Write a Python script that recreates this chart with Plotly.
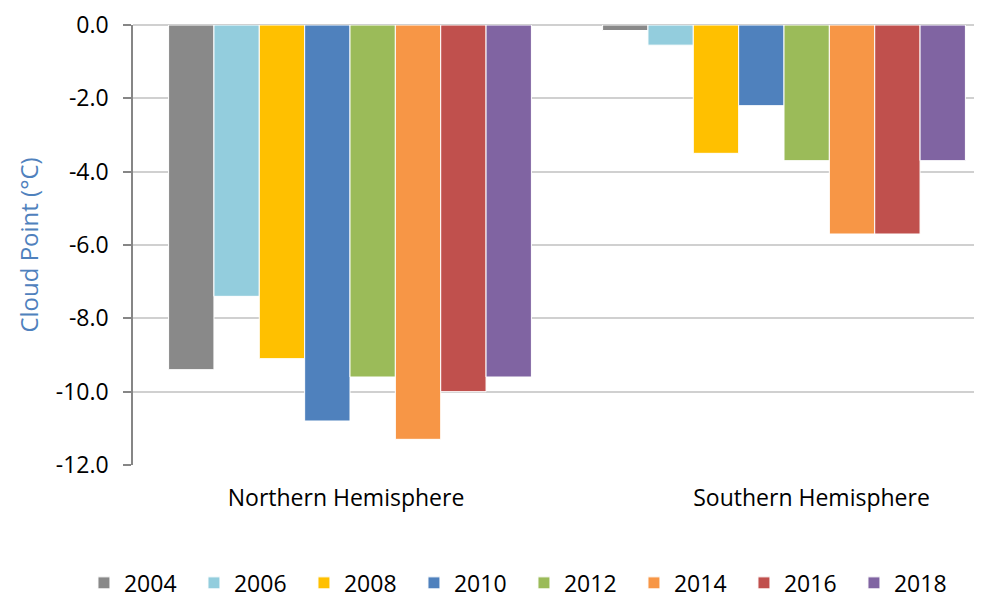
import plotly.graph_objects as go

categories = ["Northern Hemisphere", "Southern Hemisphere"]
years = ["2004", "2006", "2008", "2010", "2012", "2014", "2016", "2018"]
values = {
    "2004": [-9.4, -0.15],
    "2006": [-7.4, -0.55],
    "2008": [-9.1, -3.5],
    "2010": [-10.8, -2.2],
    "2012": [-9.6, -3.7],
    "2014": [-11.3, -5.7],
    "2016": [-10.0, -5.7],
    "2018": [-9.6, -3.7],
}
colors = ["#898989", "#93CDDD", "#FFC000", "#4F81BD", "#9BBB59", "#F79646", "#C0504D", "#8064A2"]
y_ticks = [0, -2, -4, -6, -8, -10, -12]
y_ticktext = ["0.0", "-2.0", "-4.0", "-6.0", "-8.0", "-10.0", "-12.0"]

FONT = "Open Sans"
FS = 23

fig = go.Figure()
for yr, c in zip(years, colors):
    fig.add_trace(go.Bar(
        name=yr, x=categories, y=values[yr],
        marker=dict(color=c, line=dict(color="white", width=1)),
    ))

# invisible carrier trace so the category-label axis is drawn
cat_idx = list(range(len(categories)))
fig.add_trace(go.Scatter(x=cat_idx, y=[None] * len(categories), mode="markers",
                         xaxis="x2", showlegend=False, hoverinfo="skip"))

fig.update_layout(
    width=1000, height=598,
    barmode="group", bargap=0.164, bargroupgap=0,
    plot_bgcolor="white", paper_bgcolor="white",
    margin=dict(l=125, r=7, t=17, b=141, autoexpand=False),
    font=dict(family=FONT, size=FS, color="#000000"),
    showlegend=True,
    legend=dict(orientation="h", x=-0.0565, xanchor="left", y=-0.268, yanchor="middle",
                font=dict(family=FONT, size=FS, color="#000000"),
                entrywidth=65, entrywidthmode="pixels", itemwidth=30),
    xaxis=dict(showgrid=False, showline=False, ticks="", showticklabels=False, zeroline=False),
    xaxis2=dict(overlaying="x", side="bottom", anchor="y", type="linear",
                range=[-0.4576, 1.407], tickvals=cat_idx, ticktext=categories,
                showgrid=False, showline=False, zeroline=False, ticks="", ticklabelstandoff=17,
                tickfont=dict(family=FONT, size=FS, color="#000000")),
)
fig.update_yaxes(range=[-12, 0], tickvals=y_ticks, ticktext=y_ticktext,
                 ticklabeloverflow="allow",
                 showgrid=True, gridcolor="#D0D0D0", gridwidth=1.5,
                 zeroline=True, zerolinecolor="#D0D0D0", zerolinewidth=1.5,
                 showline=True, linecolor="#868686", linewidth=1.5,
                 ticks="outside", ticklen=8, tickcolor="#868686", tickwidth=1.5,
                 ticklabelstandoff=10,
                 tickfont=dict(family=FONT, size=FS, color="#000000"),
                 title=dict(text="Cloud Point (°C)", standoff=10,
                            font=dict(family=FONT, size=24, color="#4F81BD")))

fig.write_html("out.html")
